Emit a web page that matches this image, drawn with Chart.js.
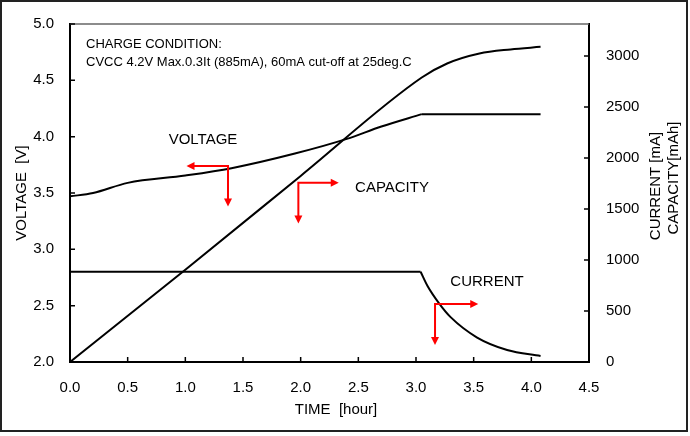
<!DOCTYPE html>
<html>
<head>
<meta charset="utf-8">
<script src="https://cdn.jsdelivr.net/npm/chart.js@4/dist/chart.umd.min.js"></script>
<style>
  body { margin: 0; background: #fff; }
  canvas { display: block; }
</style>
</head>
<body>
<canvas id="chargeChart" width="690" height="436"></canvas>
<script>
const voltageCCTime = [0, 0.2, 0.5, 1.0, 1.4, 1.95, 2.4, 2.7, 3.05];
const voltageCC = [3.47, 3.50, 3.59, 3.655, 3.72, 3.85, 3.98, 4.09, 4.20];
const voltageCVTime = [3.05, 4.08];
const voltageCV = [4.20, 4.20];

const capacityTime = [0, 1.0, 2.0, 3.05, 3.27, 3.55, 3.82, 4.08];
const capacity = [0, 905, 1825, 2790, 2928, 3026, 3066, 3091];

const currentCCTime = [0, 3.04];
const currentCC = [885, 885];
const currentCVTime = [3.04, 3.1, 3.2, 3.3, 3.53, 3.79, 4.08];
const currentCV = [885, 745, 575, 440, 240, 118, 59];

// Marcas de los ejes
const timeTicks = [0, 0.5, 1.0, 1.5, 2.0, 2.5, 3.0, 3.5, 4.0, 4.5];
const voltageTicks = [2.0, 2.5, 3.0, 3.5, 4.0, 4.5, 5.0];
const mATicks = [0, 500, 1000, 1500, 2000, 2500, 3000];

// Flechas rojas (esquina [h, V], punta horizontal en h, punta vertical en V)
const arrows = [
    { corner: [1.37, 3.74], hTip: 1.01, vTip: 3.38 },
    { corner: [1.98, 3.59], hTip: 2.33, vTip: 3.23 },
    { corner: [3.165, 2.515], hTip: 3.54, vTip: 2.15 }
];

const toPoints = (xs, ys) => xs.map((x, i) => ({ x: x, y: ys[i] }));

Chart.defaults.font.family = "'Liberation Sans', Arial, sans-serif";
Chart.defaults.color = '#000';

const lineStyle = {
    borderColor: '#000',
    borderWidth: 2,
    pointRadius: 0,
    fill: false,
    cubicInterpolationMode: 'monotone'
};

function arrowHead(ctx, x, y, dx, dy) {
    const len = 8, half = 4;
    ctx.beginPath();
    ctx.moveTo(x, y);
    ctx.lineTo(x - dx * len - dy * half, y - dy * len + dx * half);
    ctx.lineTo(x - dx * len + dy * half, y - dy * len - dx * half);
    ctx.closePath();
    ctx.fill();
}

// Dibuja marcas interiores, borde superior, flechas y textos
const decorations = {
    id: 'decorations',
    afterDraw(chart) {
        const ctx = chart.ctx;
        const area = chart.chartArea;
        const sx = chart.scales.x, sy = chart.scales.y, sy1 = chart.scales.y1;
        ctx.save();

        // borde superior del área
        ctx.strokeStyle = '#666';
        ctx.lineWidth = 1.5;
        ctx.beginPath();
        ctx.moveTo(area.left, area.top);
        ctx.lineTo(area.right, area.top);
        ctx.stroke();

        // marcas hacia dentro
        ctx.strokeStyle = '#000';
        ctx.lineWidth = 1.5;
        ctx.beginPath();
        timeTicks.forEach(t => {
            const px = sx.getPixelForValue(t);
            ctx.moveTo(px, area.bottom);
            ctx.lineTo(px, area.bottom - 5);
        });
        voltageTicks.forEach(v => {
            const py = sy.getPixelForValue(v);
            ctx.moveTo(area.left, py);
            ctx.lineTo(area.left + 5, py);
        });
        mATicks.forEach(v => {
            const py = sy1.getPixelForValue(v);
            ctx.moveTo(area.right, py);
            ctx.lineTo(area.right - 5, py);
        });
        ctx.stroke();

        // flechas rojas
        ctx.strokeStyle = '#ff0000';
        ctx.fillStyle = '#ff0000';
        ctx.lineWidth = 2;
        arrows.forEach(a => {
            const cx = sx.getPixelForValue(a.corner[0]);
            const cy = sy.getPixelForValue(a.corner[1]);
            const hx = sx.getPixelForValue(a.hTip);
            const vy = sy.getPixelForValue(a.vTip);
            const dir = hx < cx ? -1 : 1;
            ctx.beginPath();
            ctx.moveTo(hx - dir * 6, cy);
            ctx.lineTo(cx, cy);
            ctx.lineTo(cx, vy - 6);
            ctx.stroke();
            arrowHead(ctx, hx, cy, dir, 0);
            arrowHead(ctx, cx, vy, 0, 1);
        });

        // textos
        ctx.fillStyle = '#000';
        ctx.textBaseline = 'middle';
        ctx.textAlign = 'left';
        ctx.font = "13px 'Liberation Sans', Arial, sans-serif";
        ctx.fillText('CHARGE CONDITION:', 86, 44);
        ctx.fillText('CVCC 4.2V Max.0.3It (885mA), 60mA cut-off at 25deg.C', 86, 62);

        ctx.textAlign = 'center';
        ctx.font = "15px 'Liberation Sans', Arial, sans-serif";
        ctx.fillText('VOLTAGE', 203, 140);
        ctx.fillText('CAPACITY', 392, 188);
        ctx.fillText('CURRENT', 487, 282);
        ctx.fillText('TIME  [hour]', 336, 410);

        const vertical = (text, x, y) => {
            ctx.save();
            ctx.translate(x, y);
            ctx.rotate(-Math.PI / 2);
            ctx.fillText(text, 0, 0);
            ctx.restore();
        };
        vertical('VOLTAGE  [V]', 22, 193);
        vertical('CURRENT [mA]', 656, 186);
        vertical('CAPACITY[mAh]', 674, 178);

        // marco exterior
        ctx.strokeStyle = '#222';
        ctx.lineWidth = 2;
        ctx.strokeRect(1, 1, 686, 430);
        ctx.restore();
    }
};

new Chart(document.getElementById('chargeChart'), {
    type: 'line',
    data: {
        datasets: [
            { ...lineStyle, label: 'VOLTAGE', data: toPoints(voltageCCTime, voltageCC), yAxisID: 'y' },
            { ...lineStyle, label: 'VOLTAGE CV', data: toPoints(voltageCVTime, voltageCV), yAxisID: 'y' },
            { ...lineStyle, label: 'CAPACITY', data: toPoints(capacityTime, capacity), yAxisID: 'y1' },
            { ...lineStyle, label: 'CURRENT', data: toPoints(currentCCTime, currentCC), yAxisID: 'y1' },
            { ...lineStyle, label: 'CURRENT CV', data: toPoints(currentCVTime, currentCV), yAxisID: 'y1' }
        ]
    },
    options: {
        responsive: false,
        animation: false,
        layout: { padding: { top: 24, left: 0, right: 0, bottom: 0 } },
        plugins: {
            legend: { display: false },
            tooltip: { enabled: false }
        },
        scales: {
            x: {
                type: 'linear',
                position: 'bottom',
                min: 0,
                max: 4.5,
                grid: { display: false },
                border: { color: '#000', width: 2 },
                ticks: {
                    stepSize: 0.5,
                    padding: 9,
                    maxRotation: 0,
                    font: { size: 15 },
                    callback: v => Number(v).toFixed(1)
                },
                afterFit: s => { s.height = 74; }
            },
            y: {
                position: 'left',
                min: 2,
                max: 5,
                grid: { display: false },
                border: { color: '#000', width: 2 },
                ticks: {
                    stepSize: 0.5,
                    padding: 8,
                    font: { size: 15 },
                    callback: v => Number(v).toFixed(1)
                },
                afterFit: s => { s.width = 70; }
            },
            y1: {
                position: 'right',
                min: 0,
                max: 3315,
                grid: { display: false },
                border: { color: '#000', width: 2 },
                afterBuildTicks: s => {
                    s.ticks = mATicks.map(v => ({ value: v }));
                },
                ticks: {
                    padding: 9,
                    font: { size: 15 },
                    callback: v => String(v)
                },
                afterFit: s => { s.width = 101; }
            }
        }
    },
    plugins: [decorations]
});
</script>
</body>
</html>
